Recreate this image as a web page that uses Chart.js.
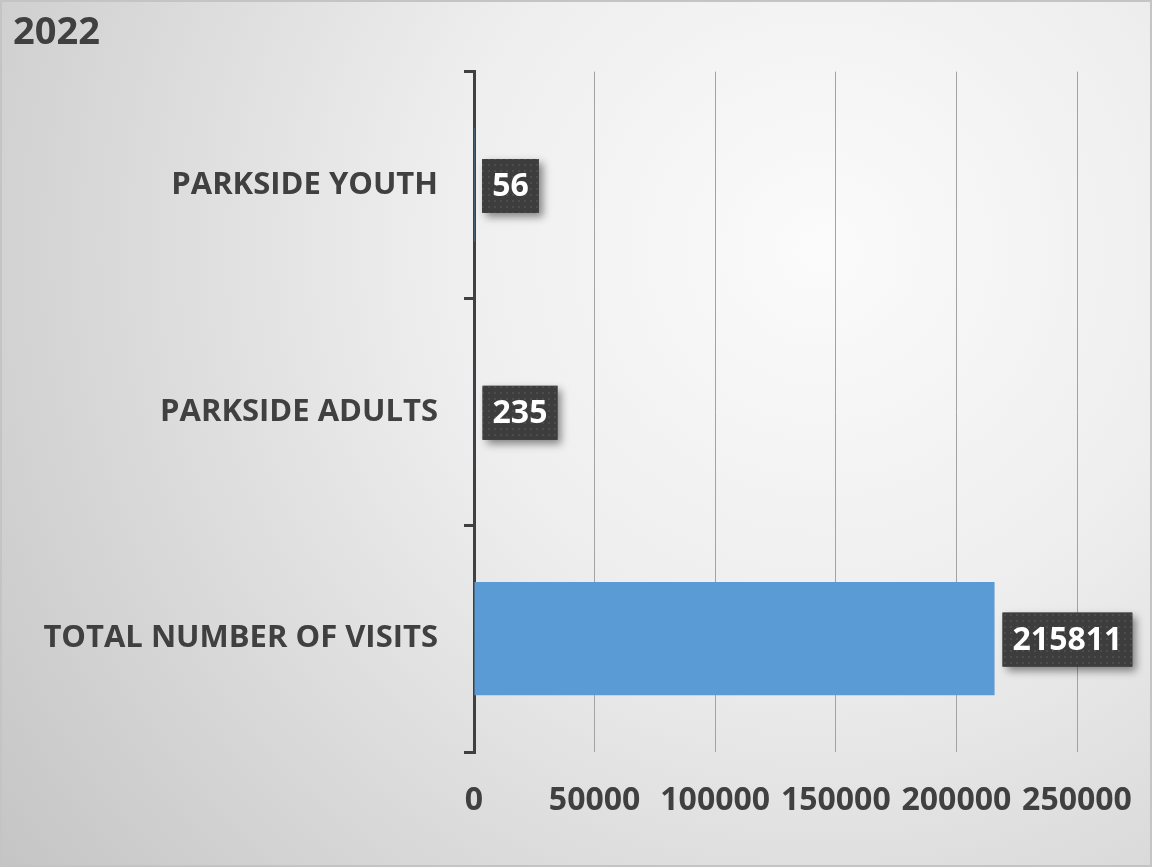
<!DOCTYPE html>
<html>
<head>
<meta charset="utf-8">
<script src="https://cdn.jsdelivr.net/npm/chart.js@4.4.1/dist/chart.umd.min.js"></script>
<style>
  body { margin: 0; background: #ffffff; }
  canvas { display: block; }
</style>
</head>
<body>
<canvas id="visitsChart" width="1152" height="867"></canvas>
<script>
// Chart data
const categories = ['PARKSIDE YOUTH', 'PARKSIDE ADULTS', 'TOTAL NUMBER OF VISITS'];
const visits = [56, 235, 215811];
const xTicks = [0, 50000, 100000, 150000, 200000, 250000];
const chartTitle = '2022';

const textColour = '#404040';
const fontFamily = '"Open Sans", "Noto Sans", sans-serif';

// Soft radial background like the office chart style
const backgroundPlugin = {
    id: 'background',
    beforeDraw(chart) {
        const ctx = chart.ctx;
        const w = chart.width, h = chart.height;
        const grad = ctx.createRadialGradient(820, 250, 0, 820, 250, 1100);
        grad.addColorStop(0, '#fbfbfb');
        grad.addColorStop(0.35, '#eeeeee');
        grad.addColorStop(1, '#c0c0c0');
        ctx.save();
        ctx.fillStyle = grad;
        ctx.fillRect(0, 0, w, h);
        ctx.strokeStyle = '#c4c4c4';
        ctx.lineWidth = 2;
        ctx.strokeRect(1, 1, w - 2, h - 2);
        ctx.restore();
    }
};

// Dark boxed data labels with a drop shadow
function makeDotPattern(ctx) {
    const p = document.createElement('canvas');
    p.width = 6; p.height = 6;
    const pc = p.getContext('2d');
    pc.fillStyle = '#3d3d3d';
    pc.fillRect(0, 0, 6, 6);
    pc.fillStyle = '#4c4c4c';
    pc.fillRect(2, 2, 2, 2);
    return ctx.createPattern(p, 'repeat');
}

const boxLabelPlugin = {
    id: 'boxLabels',
    afterDatasetsDraw(chart) {
        const ctx = chart.ctx;
        const meta = chart.getDatasetMeta(0);
        const pattern = makeDotPattern(ctx);
        ctx.save();
        ctx.font = 'bold 32px ' + fontFamily;
        meta.data.forEach((bar, i) => {
            const text = String(visits[i]);
            const tw = ctx.measureText(text).width;
            const bw = tw + 20, bh = 54;
            const left = bar.x + 8;
            const top = bar.y - bh / 2 + 1;
            ctx.save();
            ctx.shadowColor = 'rgba(0,0,0,0.45)';
            ctx.shadowBlur = 8;
            ctx.shadowOffsetX = 4;
            ctx.shadowOffsetY = 4;
            ctx.fillStyle = '#3d3d3d';
            ctx.fillRect(left, top, bw, bh);
            ctx.restore();
            ctx.fillStyle = pattern;
            ctx.fillRect(left, top, bw, bh);
            ctx.fillStyle = '#ffffff';
            ctx.textAlign = 'center';
            ctx.textBaseline = 'middle';
            ctx.fillText(text, left + bw / 2, top + bh / 2 + 1);
        });
        ctx.restore();
    }
};

const chartConfig = {
    type: 'bar',
    data: {
        labels: categories,
        datasets: [{
            label: 'Visits',
            data: visits,
            backgroundColor: '#5b9bd5',
            categoryPercentage: 1,
            barPercentage: 0.5
        }]
    },
    options: {
        indexAxis: 'y',
        responsive: false,
        animation: false,
        layout: {
            padding: { left: 13, right: 75, top: 0, bottom: 0 }
        },
        scales: {
            x: {
                min: 0,
                max: 250000,
                afterBuildTicks: (scale) => {
                    scale.ticks = xTicks.map(v => ({ value: v }));
                },
                afterFit: (scale) => {
                    scale.height = 115;
                    // let the layout padding decide the plot's right edge
                    scale.paddingLeft = 0;
                    scale.paddingRight = 0;
                },
                border: { display: false },
                grid: {
                    color: '#a3a3a3',
                    lineWidth: 1,
                    drawTicks: false
                },
                ticks: {
                    autoSkip: false,
                    maxRotation: 0,
                    padding: 30,
                    color: textColour,
                    font: { family: fontFamily, size: 32, weight: 'bold' },
                    callback: (value) => String(value)
                }
            },
            y: {
                afterFit: (scale) => { scale.width = 461; },
                border: { display: true, color: textColour, width: 3 },
                grid: {
                    offset: true,
                    drawOnChartArea: false,
                    drawTicks: true,
                    tickLength: 10,
                    color: textColour,
                    lineWidth: 3
                },
                ticks: {
                    padding: 26,
                    color: textColour,
                    font: { family: fontFamily, size: 31, weight: 'bold' }
                }
            }
        },
        plugins: {
            legend: { display: false },
            tooltip: { enabled: false },
            title: {
                display: true,
                text: chartTitle,
                align: 'start',
                color: textColour,
                padding: { top: 10, bottom: 16 },
                font: { family: fontFamily, size: 38, weight: 'bold', lineHeight: 1.2 }
            }
        }
    },
    plugins: [backgroundPlugin, boxLabelPlugin]
};

const visitsChart = new Chart('visitsChart', chartConfig);
</script>
</body>
</html>
